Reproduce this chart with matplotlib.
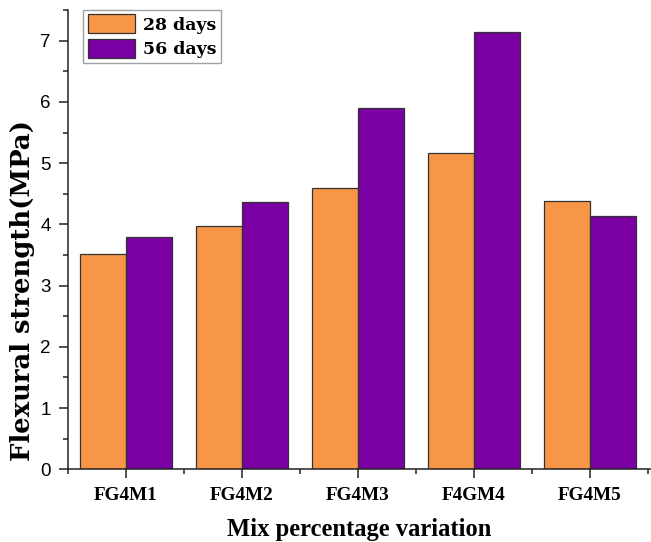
import matplotlib
matplotlib.use("Agg")
import matplotlib.pyplot as plt
from matplotlib.ticker import MultipleLocator
import numpy as np

# Flexural strength by mix, two curing ages
mixes = ["FG4M1", "FG4M2", "FG4M3", "F4GM4", "FG4M5"]
strength_28 = [3.51, 3.97, 4.60, 5.17, 4.39]
strength_56 = [3.80, 4.36, 5.90, 7.15, 4.13]
series_labels = ["28 days", "56 days"]

orange = "#F79646"
purple = "#7B00A3"

fig = plt.figure(figsize=(6.51, 5.42), dpi=100)
ax = fig.add_axes([68 / 651, 1 - 469.3 / 542, 1 - 68 / 651, (469.3 - 10.1) / 542])

x = np.arange(1, len(mixes) + 1)
w = 0.4
ax.bar(x - w / 2, strength_28, width=w, color=orange, edgecolor="#333333",
       linewidth=0.9, label=series_labels[0])
ax.bar(x + w / 2, strength_56, width=w, color=purple, edgecolor="#333333",
       linewidth=0.9, label=series_labels[1])

ax.set_xlim(0.5, 5.525)
ax.set_ylim(0, 7.5)

for side in ("top", "right"):
    ax.spines[side].set_visible(False)
for side in ("left", "bottom"):
    ax.spines[side].set_linewidth(1.1)
    ax.spines[side].set_color("#222222")

ax.set_xticks(x)
ax.set_xticklabels(mixes, fontfamily="Liberation Serif", fontweight="bold",
                   fontsize=13.8)
ax.xaxis.set_minor_locator(MultipleLocator(1, offset=0.5))
ax.yaxis.set_major_locator(MultipleLocator(1))
ax.yaxis.set_minor_locator(MultipleLocator(0.5))
ax.tick_params(axis="both", which="major", direction="out", length=6.5,
               width=1.1, color="#222222")
ax.tick_params(axis="both", which="minor", direction="out", length=3.5,
               width=1.1, color="#222222")
ax.tick_params(axis="y", which="major", pad=5.8, labelsize=13.5)
ax.tick_params(axis="x", which="major", pad=6)
for lab in ax.get_yticklabels():
    lab.set_fontfamily("Liberation Sans")

ax.set_xlabel("Mix percentage variation", fontfamily="Liberation Serif",
              fontweight="bold", fontsize=17.7, labelpad=10)
ax.set_ylabel("Flexural strength(MPa)", fontfamily="DejaVu Serif",
              fontweight="bold", fontsize=18.6)
ax.yaxis.set_label_coords(-0.0566, 0.39)

leg = ax.legend(loc="upper left", bbox_to_anchor=(83.3 / 651, 1 - 10 / 542),
                bbox_transform=fig.transFigure,
                prop={"family": "DejaVu Serif", "weight": "bold", "size": 12.5},
                frameon=True, fancybox=False, borderpad=0.25,
                labelspacing=0.3, handlelength=2.74, handleheight=1.32,
                handletextpad=0.46, borderaxespad=0)
leg.get_frame().set_edgecolor("#888888")
leg.get_frame().set_linewidth(1.0)

fig.savefig("out.png", dpi=100)
